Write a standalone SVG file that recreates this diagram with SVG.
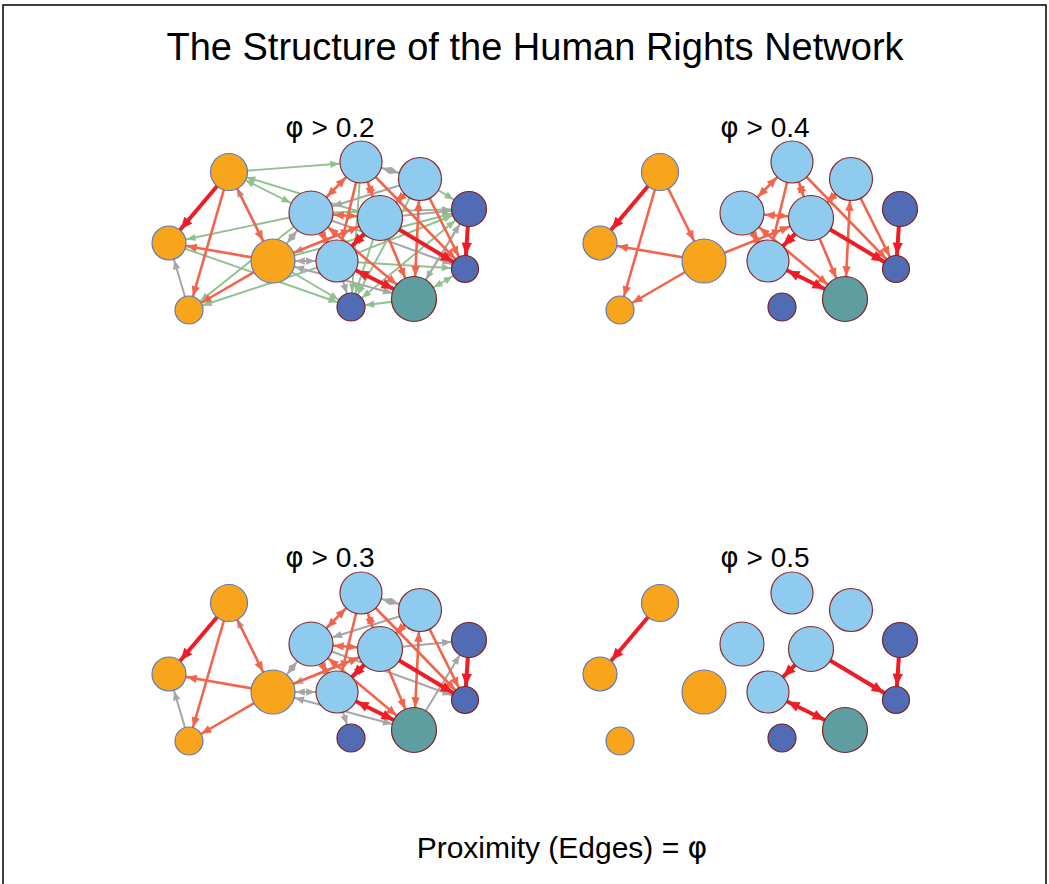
<svg xmlns="http://www.w3.org/2000/svg" width="1049" height="884" viewBox="0 0 1049 884">
<style>
text{font-family:"Liberation Sans",Arial,sans-serif;fill:#000}
.phi{font-family:"DejaVu Sans",sans-serif}
.g{stroke:#8FC18F;stroke-width:1.9}
.y{stroke:#A6A6A6;stroke-width:2}
.c{stroke:#F2644B;stroke-width:2.6}
.r{stroke:#EE1C25;stroke-width:4}
.or{fill:#F8A51B;stroke:#5A7BC0;stroke-width:1.2}
.lb{fill:#8FCBEE;stroke:#8B2A2A;stroke-width:1.2}
.db{fill:#516CB5;stroke:#7A2323;stroke-width:1.2}
.tl{fill:#5F9EA0;stroke:#7A2323;stroke-width:1.2}
</style>
<defs>
<marker id="g-s" markerUnits="userSpaceOnUse" orient="auto-start-reverse" overflow="visible" markerWidth="1" markerHeight="1"><path d="M-14.3,0L-23.3,-3.6L-23.3,3.6Z" fill="#8FC18F"/></marker>
<marker id="g-m" markerUnits="userSpaceOnUse" orient="auto-start-reverse" overflow="visible" markerWidth="1" markerHeight="1"><path d="M-18,0L-27,-3.6L-27,3.6Z" fill="#8FC18F"/></marker>
<marker id="g-e" markerUnits="userSpaceOnUse" orient="auto-start-reverse" overflow="visible" markerWidth="1" markerHeight="1"><path d="M-21.8,0L-30.8,-3.6L-30.8,3.6Z" fill="#8FC18F"/></marker>
<marker id="g-l" markerUnits="userSpaceOnUse" orient="auto-start-reverse" overflow="visible" markerWidth="1" markerHeight="1"><path d="M-22.8,0L-31.8,-3.6L-31.8,3.6Z" fill="#8FC18F"/></marker>
<marker id="y-s" markerUnits="userSpaceOnUse" orient="auto-start-reverse" overflow="visible" markerWidth="1" markerHeight="1"><path d="M-14.3,0L-23.3,-3.8L-23.3,3.8Z" fill="#A6A6A6"/></marker>
<marker id="y-m" markerUnits="userSpaceOnUse" orient="auto-start-reverse" overflow="visible" markerWidth="1" markerHeight="1"><path d="M-18,0L-27,-3.8L-27,3.8Z" fill="#A6A6A6"/></marker>
<marker id="y-e" markerUnits="userSpaceOnUse" orient="auto-start-reverse" overflow="visible" markerWidth="1" markerHeight="1"><path d="M-21.8,0L-30.8,-3.8L-30.8,3.8Z" fill="#A6A6A6"/></marker>
<marker id="y-l" markerUnits="userSpaceOnUse" orient="auto-start-reverse" overflow="visible" markerWidth="1" markerHeight="1"><path d="M-22.8,0L-31.8,-3.8L-31.8,3.8Z" fill="#A6A6A6"/></marker>
<marker id="c-s" markerUnits="userSpaceOnUse" orient="auto-start-reverse" overflow="visible" markerWidth="1" markerHeight="1"><path d="M-14.3,0L-24.3,-4.2L-24.3,4.2Z" fill="#F2644B"/></marker>
<marker id="c-m" markerUnits="userSpaceOnUse" orient="auto-start-reverse" overflow="visible" markerWidth="1" markerHeight="1"><path d="M-18,0L-28,-4.2L-28,4.2Z" fill="#F2644B"/></marker>
<marker id="c-e" markerUnits="userSpaceOnUse" orient="auto-start-reverse" overflow="visible" markerWidth="1" markerHeight="1"><path d="M-21.8,0L-31.8,-4.2L-31.8,4.2Z" fill="#F2644B"/></marker>
<marker id="c-l" markerUnits="userSpaceOnUse" orient="auto-start-reverse" overflow="visible" markerWidth="1" markerHeight="1"><path d="M-22.8,0L-32.8,-4.2L-32.8,4.2Z" fill="#F2644B"/></marker>
<marker id="r-s" markerUnits="userSpaceOnUse" orient="auto-start-reverse" overflow="visible" markerWidth="1" markerHeight="1"><path d="M-14.3,0L-26.3,-5.2L-26.3,5.2Z" fill="#EE1C25"/></marker>
<marker id="r-m" markerUnits="userSpaceOnUse" orient="auto-start-reverse" overflow="visible" markerWidth="1" markerHeight="1"><path d="M-18,0L-30,-5.2L-30,5.2Z" fill="#EE1C25"/></marker>
<marker id="r-e" markerUnits="userSpaceOnUse" orient="auto-start-reverse" overflow="visible" markerWidth="1" markerHeight="1"><path d="M-21.8,0L-33.8,-5.2L-33.8,5.2Z" fill="#EE1C25"/></marker>
<marker id="r-l" markerUnits="userSpaceOnUse" orient="auto-start-reverse" overflow="visible" markerWidth="1" markerHeight="1"><path d="M-22.8,0L-34.8,-5.2L-34.8,5.2Z" fill="#EE1C25"/></marker>
</defs>
<rect x="0" y="0" width="1049" height="884" fill="#fff"/>
<path d="M3,884V5H1046V884" fill="none" stroke="#000" stroke-width="1.5"/>
<text x="535" y="60" font-size="38" text-anchor="middle">The Structure of the Human Rights Network</text>
<text x="330" y="137" font-size="28" text-anchor="middle"><tspan class="phi">φ</tspan> &gt; 0.2</text>
<text x="765" y="137" font-size="28" text-anchor="middle"><tspan class="phi">φ</tspan> &gt; 0.4</text>
<text x="330" y="567" font-size="28" text-anchor="middle"><tspan class="phi">φ</tspan> &gt; 0.3</text>
<text x="765" y="567" font-size="28" text-anchor="middle"><tspan class="phi">φ</tspan> &gt; 0.5</text>
<text x="562" y="858" font-size="30" text-anchor="middle">Proximity (Edges) = <tspan class="phi">φ</tspan></text>

<!-- Panel 1: phi > 0.2 -->
<g id="panel1">
<g id="p1-edges">
<line class="g" x1="229" y1="172" x2="361" y2="162" marker-end="url(#g-e)"/>
<line class="g" x1="229" y1="172" x2="311" y2="213" marker-start="url(#g-m)" marker-end="url(#g-l)"/>
<line class="g" x1="380" y1="218" x2="229" y2="172" marker-end="url(#g-m)"/>
<line class="g" x1="311" y1="213" x2="169" y2="243" marker-end="url(#g-m)"/>
<line class="g" x1="169" y1="243" x2="351" y2="307" marker-end="url(#g-s)"/>
<line class="g" x1="273" y1="261" x2="351" y2="307" marker-end="url(#g-s)"/>
<line class="g" x1="311" y1="213" x2="189" y2="310" marker-end="url(#g-s)"/>
<line class="g" x1="337" y1="261" x2="189" y2="310" marker-end="url(#g-s)"/>
<line class="g" x1="361" y1="162" x2="351" y2="307" marker-end="url(#g-s)"/>
<line class="g" x1="380" y1="218" x2="351" y2="307" marker-end="url(#g-s)"/>
<line class="g" x1="420" y1="179" x2="351" y2="307" marker-end="url(#g-s)"/>
<line class="g" x1="469" y1="209" x2="351" y2="307" marker-start="url(#g-m)" marker-end="url(#g-s)"/>
<line class="g" x1="414" y1="299" x2="351" y2="307" marker-end="url(#g-s)"/>
<line class="g" x1="420" y1="179" x2="469" y2="209" marker-end="url(#g-m)"/>
<line class="g" x1="311" y1="213" x2="469" y2="209" marker-end="url(#g-m)"/>
<line class="g" x1="273" y1="261" x2="469" y2="209" marker-end="url(#g-m)"/>
<line class="g" x1="337" y1="261" x2="469" y2="209" marker-end="url(#g-m)"/>
<line class="g" x1="337" y1="261" x2="465" y2="269" marker-end="url(#g-s)"/>
<line class="g" x1="414" y1="299" x2="465" y2="269" marker-start="url(#g-l)" marker-end="url(#g-s)"/>
<line class="g" x1="469" y1="209" x2="414" y2="299" marker-end="url(#g-l)"/>

<line class="y" x1="273" y1="261" x2="229" y2="172" marker-end="url(#y-m)"/>
<line class="y" x1="189" y1="310" x2="169" y2="243" marker-end="url(#y-m)"/>
<line class="y" x1="273" y1="261" x2="311" y2="213" marker-start="url(#y-l)" marker-end="url(#y-l)"/>
<line class="y" x1="380" y1="218" x2="273" y2="261" marker-end="url(#y-l)"/>
<line class="y" x1="273" y1="261" x2="337" y2="261" marker-start="url(#y-l)" marker-end="url(#y-e)"/>
<line class="y" x1="273" y1="261" x2="414" y2="299" marker-start="url(#y-l)" marker-end="url(#y-l)"/>
<line class="y" x1="337" y1="261" x2="351" y2="307" marker-end="url(#y-s)"/>
<line class="y" x1="361" y1="162" x2="420" y2="179" marker-start="url(#y-e)" marker-end="url(#y-e)"/>
<line class="y" x1="420" y1="179" x2="311" y2="213" marker-end="url(#y-l)"/>
<line class="y" x1="380" y1="218" x2="469" y2="209" marker-end="url(#y-m)"/>
<line class="y" x1="311" y1="213" x2="465" y2="269" marker-end="url(#y-s)"/>
<line class="y" x1="414" y1="299" x2="469" y2="209" marker-end="url(#y-m)"/>

<line class="c" x1="229" y1="172" x2="189" y2="310" marker-end="url(#c-s)"/>
<line class="c" x1="229" y1="172" x2="273" y2="261" marker-end="url(#c-l)"/>
<line class="c" x1="273" y1="261" x2="169" y2="243" marker-end="url(#c-m)"/>
<line class="c" x1="273" y1="261" x2="189" y2="310" marker-end="url(#c-s)"/>
<line class="c" x1="273" y1="261" x2="380" y2="218" marker-end="url(#c-l)"/>
<line class="c" x1="361" y1="162" x2="311" y2="213" marker-start="url(#c-e)" marker-end="url(#c-l)"/>
<line class="c" x1="361" y1="162" x2="337" y2="261" marker-end="url(#c-e)"/>
<line class="c" x1="361" y1="162" x2="380" y2="218" marker-start="url(#c-e)" marker-end="url(#c-l)"/>
<line class="c" x1="361" y1="162" x2="465" y2="269" marker-end="url(#c-s)"/>
<line class="c" x1="420" y1="179" x2="380" y2="218" marker-start="url(#c-e)" marker-end="url(#c-l)"/>
<line class="c" x1="420" y1="179" x2="414" y2="299" marker-start="url(#c-e)" marker-end="url(#c-l)"/>
<line class="c" x1="420" y1="179" x2="465" y2="269" marker-end="url(#c-s)"/>
<line class="c" x1="311" y1="213" x2="380" y2="218" marker-start="url(#c-l)" marker-end="url(#c-l)"/>
<line class="c" x1="337" y1="261" x2="380" y2="218" marker-end="url(#c-l)"/>
<line class="c" x1="337" y1="261" x2="311" y2="213" marker-start="url(#c-e)" marker-end="url(#c-l)"/>
<line class="c" x1="311" y1="213" x2="414" y2="299" marker-start="url(#c-l)" marker-end="url(#c-l)"/>
<line class="c" x1="380" y1="218" x2="414" y2="299" marker-end="url(#c-l)"/>

<line class="r" x1="229" y1="172" x2="169" y2="243" marker-end="url(#r-m)"/>
<line class="r" x1="380" y1="218" x2="337" y2="261" marker-end="url(#r-e)"/>
<line class="r" x1="380" y1="218" x2="465" y2="269" marker-end="url(#r-s)"/>
<line class="r" x1="469" y1="209" x2="465" y2="269" marker-end="url(#r-s)"/>
<line class="r" x1="337" y1="261" x2="414" y2="299" marker-start="url(#r-e)" marker-end="url(#r-l)"/>
</g>
<g id="p1-A"><circle class="or" cx="229" cy="172" r="18.5"/></g>
<g id="p1-B"><circle class="or" cx="169" cy="243" r="17"/></g>
<g id="p1-C"><circle class="or" cx="189" cy="310" r="14"/></g>
<g id="p1-D"><circle class="or" cx="273" cy="261" r="22"/></g>
<g id="p1-E"><circle class="lb" cx="361" cy="162" r="21"/></g>
<g id="p1-F"><circle class="lb" cx="420" cy="179" r="21.5"/></g>
<g id="p1-G"><circle class="lb" cx="311" cy="213" r="22"/></g>
<g id="p1-H"><circle class="lb" cx="380" cy="218" r="22.5"/></g>
<g id="p1-I"><circle class="lb" cx="337" cy="261" r="21"/></g>
<g id="p1-J"><circle class="db" cx="469" cy="209" r="17.5"/></g>
<g id="p1-K"><circle class="db" cx="465" cy="269" r="13.5"/></g>
<g id="p1-L"><circle class="db" cx="351" cy="307" r="14"/></g>
<g id="p1-M"><circle class="tl" cx="414" cy="299" r="22.5"/></g>
</g>

<!-- Panel 2: phi > 0.4 -->
<g id="panel2" transform="translate(431,0)">
<g id="p2-edges">
<line class="c" x1="229" y1="172" x2="189" y2="310" marker-end="url(#c-s)"/>
<line class="c" x1="229" y1="172" x2="273" y2="261" marker-end="url(#c-l)"/>
<line class="c" x1="273" y1="261" x2="169" y2="243" marker-end="url(#c-m)"/>
<line class="c" x1="273" y1="261" x2="189" y2="310" marker-end="url(#c-s)"/>
<line class="c" x1="273" y1="261" x2="380" y2="218" marker-end="url(#c-l)"/>
<line class="c" x1="361" y1="162" x2="311" y2="213" marker-start="url(#c-e)" marker-end="url(#c-l)"/>
<line class="c" x1="361" y1="162" x2="337" y2="261" marker-end="url(#c-e)"/>
<line class="c" x1="361" y1="162" x2="380" y2="218" marker-start="url(#c-e)" marker-end="url(#c-l)"/>
<line class="c" x1="361" y1="162" x2="465" y2="269" marker-end="url(#c-s)"/>
<line class="c" x1="420" y1="179" x2="380" y2="218" marker-start="url(#c-e)" marker-end="url(#c-l)"/>
<line class="c" x1="420" y1="179" x2="414" y2="299" marker-start="url(#c-e)" marker-end="url(#c-l)"/>
<line class="c" x1="420" y1="179" x2="465" y2="269" marker-end="url(#c-s)"/>
<line class="c" x1="311" y1="213" x2="380" y2="218" marker-start="url(#c-l)" marker-end="url(#c-l)"/>
<line class="c" x1="337" y1="261" x2="380" y2="218" marker-end="url(#c-l)"/>
<line class="c" x1="337" y1="261" x2="311" y2="213" marker-start="url(#c-e)" marker-end="url(#c-l)"/>
<line class="c" x1="311" y1="213" x2="414" y2="299" marker-start="url(#c-l)" marker-end="url(#c-l)"/>
<line class="c" x1="380" y1="218" x2="414" y2="299" marker-end="url(#c-l)"/>

<line class="r" x1="229" y1="172" x2="169" y2="243" marker-end="url(#r-m)"/>
<line class="r" x1="380" y1="218" x2="337" y2="261" marker-end="url(#r-e)"/>
<line class="r" x1="380" y1="218" x2="465" y2="269" marker-end="url(#r-s)"/>
<line class="r" x1="469" y1="209" x2="465" y2="269" marker-end="url(#r-s)"/>
<line class="r" x1="337" y1="261" x2="414" y2="299" marker-start="url(#r-e)" marker-end="url(#r-l)"/>
</g>
<g id="p2-A"><circle class="or" cx="229" cy="172" r="18.5"/></g>
<g id="p2-B"><circle class="or" cx="169" cy="243" r="17"/></g>
<g id="p2-C"><circle class="or" cx="189" cy="310" r="14"/></g>
<g id="p2-D"><circle class="or" cx="273" cy="261" r="22"/></g>
<g id="p2-E"><circle class="lb" cx="361" cy="162" r="21"/></g>
<g id="p2-F"><circle class="lb" cx="420" cy="179" r="21.5"/></g>
<g id="p2-G"><circle class="lb" cx="311" cy="213" r="22"/></g>
<g id="p2-H"><circle class="lb" cx="380" cy="218" r="22.5"/></g>
<g id="p2-I"><circle class="lb" cx="337" cy="261" r="21"/></g>
<g id="p2-J"><circle class="db" cx="469" cy="209" r="17.5"/></g>
<g id="p2-K"><circle class="db" cx="465" cy="269" r="13.5"/></g>
<g id="p2-L"><circle class="db" cx="351" cy="307" r="14"/></g>
<g id="p2-M"><circle class="tl" cx="414" cy="299" r="22.5"/></g>
</g>

<!-- Panel 3: phi > 0.3 -->
<g id="panel3" transform="translate(0,431)">
<g id="p3-edges">
<line class="y" x1="273" y1="261" x2="229" y2="172" marker-end="url(#y-m)"/>
<line class="y" x1="189" y1="310" x2="169" y2="243" marker-end="url(#y-m)"/>
<line class="y" x1="273" y1="261" x2="311" y2="213" marker-start="url(#y-l)" marker-end="url(#y-l)"/>
<line class="y" x1="380" y1="218" x2="273" y2="261" marker-end="url(#y-l)"/>
<line class="y" x1="273" y1="261" x2="337" y2="261" marker-start="url(#y-l)" marker-end="url(#y-e)"/>
<line class="y" x1="273" y1="261" x2="414" y2="299" marker-start="url(#y-l)" marker-end="url(#y-l)"/>
<line class="y" x1="337" y1="261" x2="351" y2="307" marker-end="url(#y-s)"/>
<line class="y" x1="361" y1="162" x2="420" y2="179" marker-start="url(#y-e)" marker-end="url(#y-e)"/>
<line class="y" x1="420" y1="179" x2="311" y2="213" marker-end="url(#y-l)"/>
<line class="y" x1="380" y1="218" x2="469" y2="209" marker-end="url(#y-m)"/>
<line class="y" x1="311" y1="213" x2="465" y2="269" marker-end="url(#y-s)"/>
<line class="y" x1="414" y1="299" x2="469" y2="209" marker-end="url(#y-m)"/>

<line class="c" x1="229" y1="172" x2="189" y2="310" marker-end="url(#c-s)"/>
<line class="c" x1="229" y1="172" x2="273" y2="261" marker-end="url(#c-l)"/>
<line class="c" x1="273" y1="261" x2="169" y2="243" marker-end="url(#c-m)"/>
<line class="c" x1="273" y1="261" x2="189" y2="310" marker-end="url(#c-s)"/>
<line class="c" x1="273" y1="261" x2="380" y2="218" marker-end="url(#c-l)"/>
<line class="c" x1="361" y1="162" x2="311" y2="213" marker-start="url(#c-e)" marker-end="url(#c-l)"/>
<line class="c" x1="361" y1="162" x2="337" y2="261" marker-end="url(#c-e)"/>
<line class="c" x1="361" y1="162" x2="380" y2="218" marker-start="url(#c-e)" marker-end="url(#c-l)"/>
<line class="c" x1="361" y1="162" x2="465" y2="269" marker-end="url(#c-s)"/>
<line class="c" x1="420" y1="179" x2="380" y2="218" marker-start="url(#c-e)" marker-end="url(#c-l)"/>
<line class="c" x1="420" y1="179" x2="414" y2="299" marker-start="url(#c-e)" marker-end="url(#c-l)"/>
<line class="c" x1="420" y1="179" x2="465" y2="269" marker-end="url(#c-s)"/>
<line class="c" x1="311" y1="213" x2="380" y2="218" marker-start="url(#c-l)" marker-end="url(#c-l)"/>
<line class="c" x1="337" y1="261" x2="380" y2="218" marker-end="url(#c-l)"/>
<line class="c" x1="337" y1="261" x2="311" y2="213" marker-start="url(#c-e)" marker-end="url(#c-l)"/>
<line class="c" x1="311" y1="213" x2="414" y2="299" marker-start="url(#c-l)" marker-end="url(#c-l)"/>
<line class="c" x1="380" y1="218" x2="414" y2="299" marker-end="url(#c-l)"/>

<line class="r" x1="229" y1="172" x2="169" y2="243" marker-end="url(#r-m)"/>
<line class="r" x1="380" y1="218" x2="337" y2="261" marker-end="url(#r-e)"/>
<line class="r" x1="380" y1="218" x2="465" y2="269" marker-end="url(#r-s)"/>
<line class="r" x1="469" y1="209" x2="465" y2="269" marker-end="url(#r-s)"/>
<line class="r" x1="337" y1="261" x2="414" y2="299" marker-start="url(#r-e)" marker-end="url(#r-l)"/>
</g>
<g id="p3-A"><circle class="or" cx="229" cy="172" r="18.5"/></g>
<g id="p3-B"><circle class="or" cx="169" cy="243" r="17"/></g>
<g id="p3-C"><circle class="or" cx="189" cy="310" r="14"/></g>
<g id="p3-D"><circle class="or" cx="273" cy="261" r="22"/></g>
<g id="p3-E"><circle class="lb" cx="361" cy="162" r="21"/></g>
<g id="p3-F"><circle class="lb" cx="420" cy="179" r="21.5"/></g>
<g id="p3-G"><circle class="lb" cx="311" cy="213" r="22"/></g>
<g id="p3-H"><circle class="lb" cx="380" cy="218" r="22.5"/></g>
<g id="p3-I"><circle class="lb" cx="337" cy="261" r="21"/></g>
<g id="p3-J"><circle class="db" cx="469" cy="209" r="17.5"/></g>
<g id="p3-K"><circle class="db" cx="465" cy="269" r="13.5"/></g>
<g id="p3-L"><circle class="db" cx="351" cy="307" r="14"/></g>
<g id="p3-M"><circle class="tl" cx="414" cy="299" r="22.5"/></g>
</g>

<!-- Panel 4: phi > 0.5 -->
<g id="panel4" transform="translate(431,431)">
<g id="p4-edges">
<line class="r" x1="229" y1="172" x2="169" y2="243" marker-end="url(#r-m)"/>
<line class="r" x1="380" y1="218" x2="337" y2="261" marker-end="url(#r-e)"/>
<line class="r" x1="380" y1="218" x2="465" y2="269" marker-end="url(#r-s)"/>
<line class="r" x1="469" y1="209" x2="465" y2="269" marker-end="url(#r-s)"/>
<line class="r" x1="337" y1="261" x2="414" y2="299" marker-start="url(#r-e)" marker-end="url(#r-l)"/>
</g>
<g id="p4-A"><circle class="or" cx="229" cy="172" r="18.5"/></g>
<g id="p4-B"><circle class="or" cx="169" cy="243" r="17"/></g>
<g id="p4-C"><circle class="or" cx="189" cy="310" r="14"/></g>
<g id="p4-D"><circle class="or" cx="273" cy="261" r="22"/></g>
<g id="p4-E"><circle class="lb" cx="361" cy="162" r="21"/></g>
<g id="p4-F"><circle class="lb" cx="420" cy="179" r="21.5"/></g>
<g id="p4-G"><circle class="lb" cx="311" cy="213" r="22"/></g>
<g id="p4-H"><circle class="lb" cx="380" cy="218" r="22.5"/></g>
<g id="p4-I"><circle class="lb" cx="337" cy="261" r="21"/></g>
<g id="p4-J"><circle class="db" cx="469" cy="209" r="17.5"/></g>
<g id="p4-K"><circle class="db" cx="465" cy="269" r="13.5"/></g>
<g id="p4-L"><circle class="db" cx="351" cy="307" r="14"/></g>
<g id="p4-M"><circle class="tl" cx="414" cy="299" r="22.5"/></g>
</g>
</svg>
